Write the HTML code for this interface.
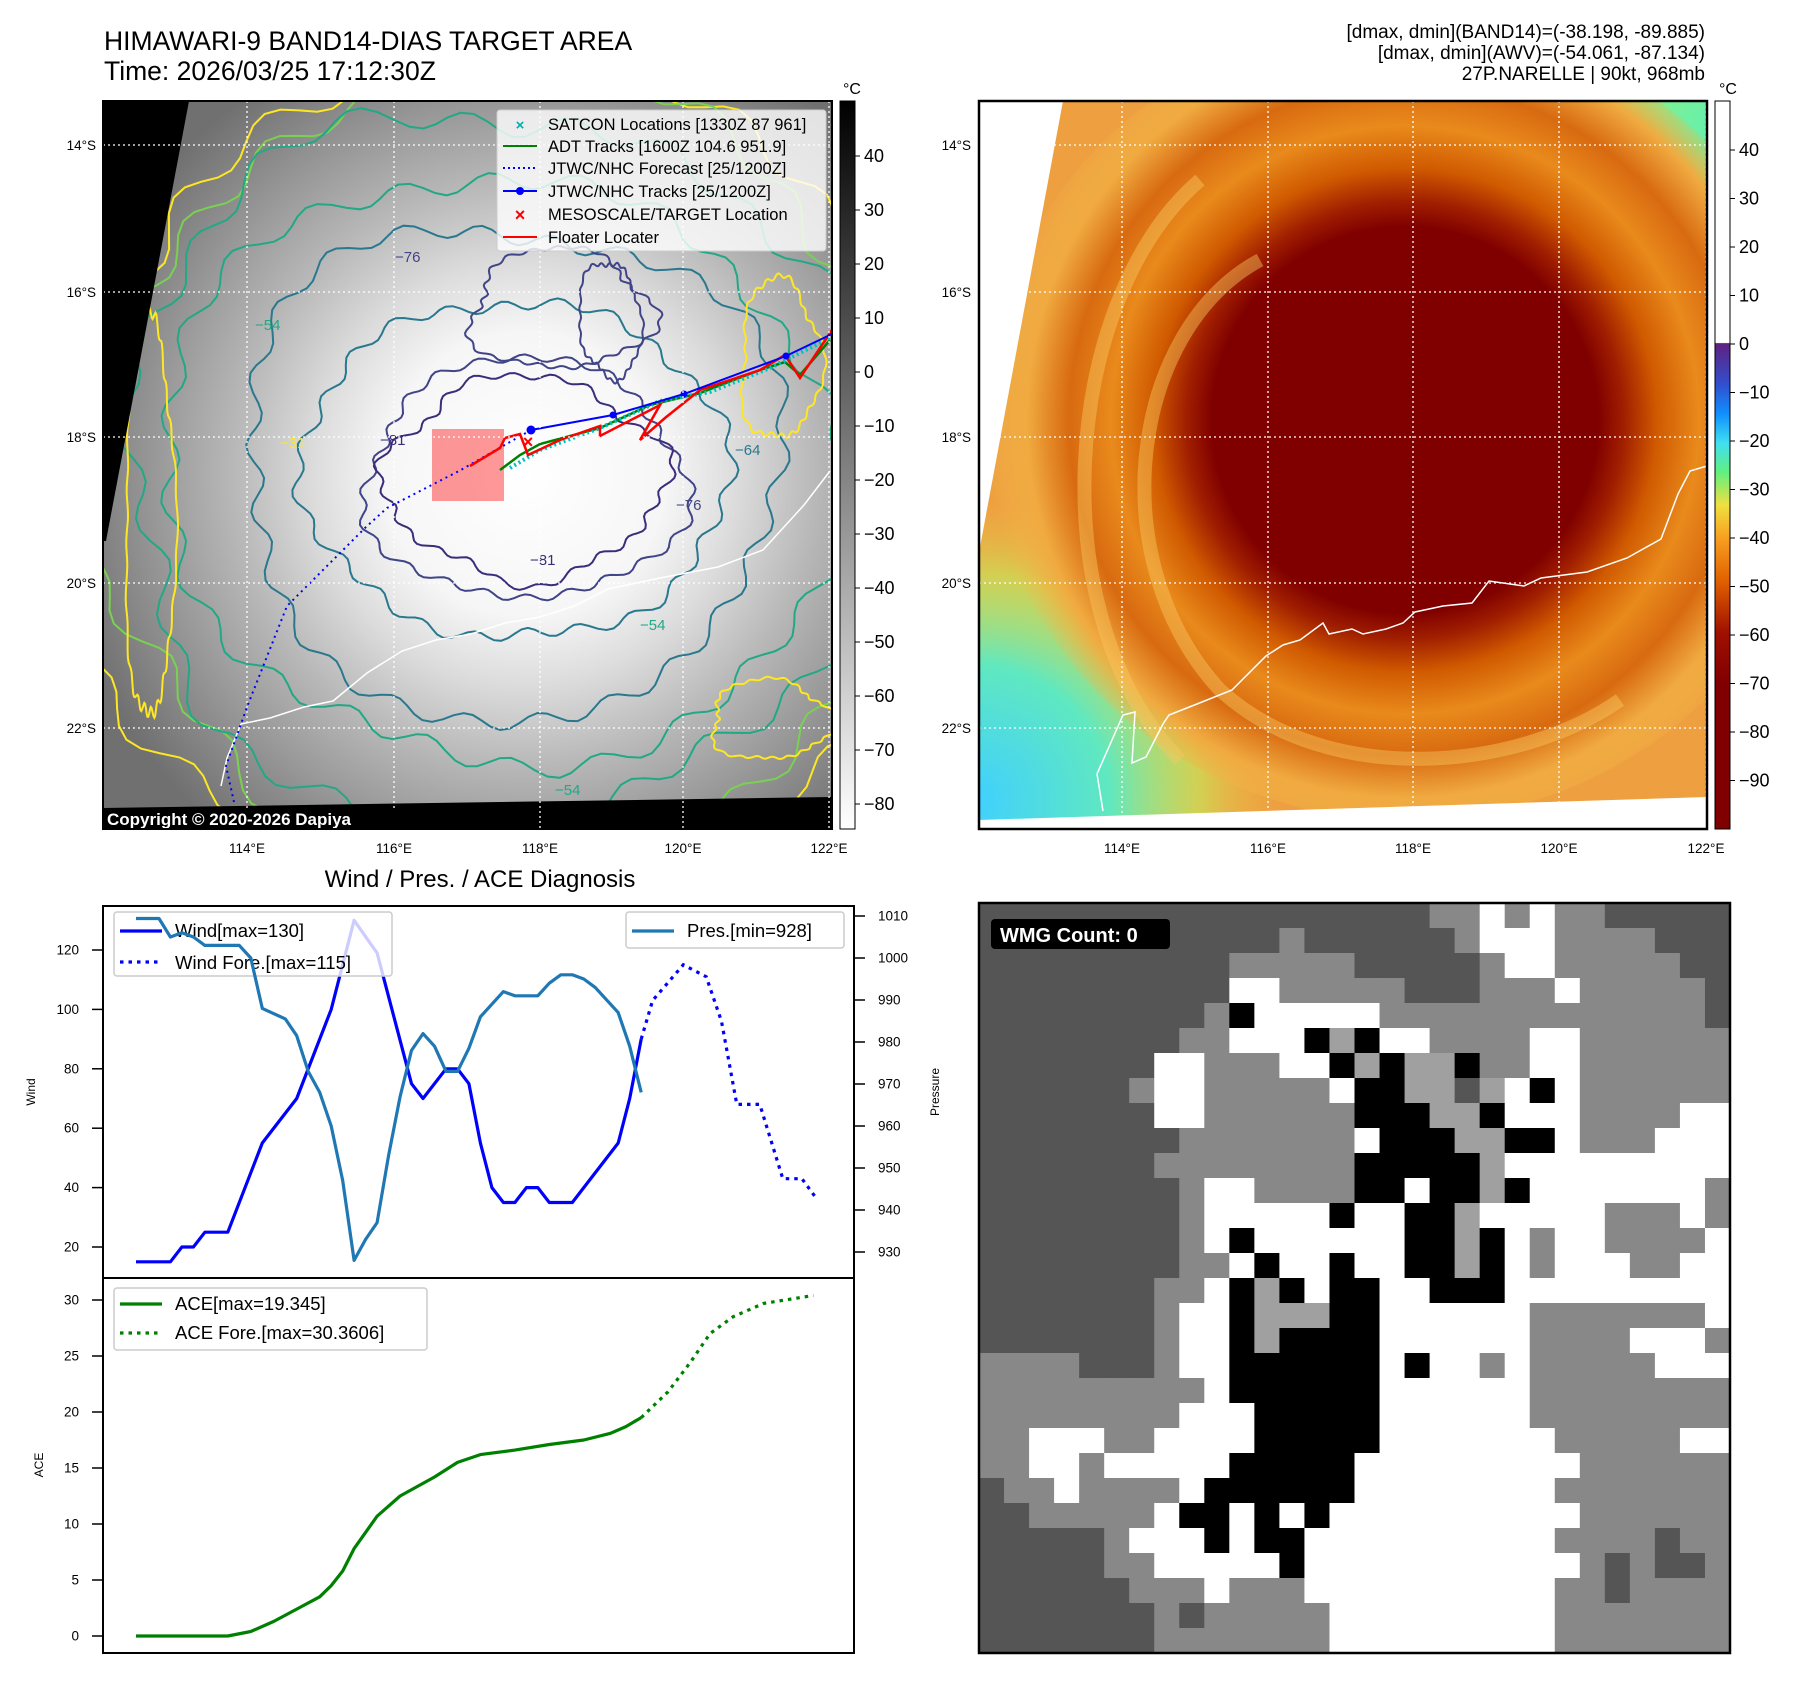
<!DOCTYPE html>
<html><head><meta charset="utf-8"><style>
html,body{margin:0;padding:0;background:#fff;}
svg{display:block;font-family:"Liberation Sans","DejaVu Sans",sans-serif;}
</style></head><body>
<svg id="fig" width="1797" height="1690" viewBox="0 0 1797 1690" xmlns="http://www.w3.org/2000/svg">
<defs>
  <clipPath id="clipL"><rect x="103" y="101" width="729" height="728"/></clipPath>
  <clipPath id="clipR"><rect x="979" y="101" width="728" height="728"/></clipPath>
  <clipPath id="clipC1"><rect x="103" y="906" width="751" height="372"/></clipPath>
  <clipPath id="clipC2"><rect x="103" y="1278" width="751" height="375"/></clipPath>
  <radialGradient id="grayBg" gradientUnits="userSpaceOnUse" cx="525" cy="474" r="470">
    <stop offset="0" stop-color="#ffffff"/><stop offset="0.3" stop-color="#f6f6f6"/>
    <stop offset="0.45" stop-color="#dcdcdc"/><stop offset="0.62" stop-color="#b8b8b8"/>
    <stop offset="0.8" stop-color="#969696"/><stop offset="1" stop-color="#707070"/>
  </radialGradient>
  <radialGradient id="redCore" gradientUnits="userSpaceOnUse" cx="1405" cy="420" r="420">
    <stop offset="0" stop-color="#800000"/><stop offset="0.46" stop-color="#800000"/>
    <stop offset="0.52" stop-color="#a01e00"/><stop offset="0.6" stop-color="#d05a00"/>
    <stop offset="0.7" stop-color="#e98a1c"/><stop offset="0.8" stop-color="#d86a10"/>
    <stop offset="0.9" stop-color="#f0aa40"/><stop offset="1" stop-color="#f3b848" stop-opacity="0"/>
  </radialGradient>
  <radialGradient id="cyanBL" gradientUnits="userSpaceOnUse" cx="975" cy="800" r="300">
    <stop offset="0" stop-color="#40d0ff"/><stop offset="0.45" stop-color="#60e8c0"/>
    <stop offset="0.75" stop-color="#c0f060" stop-opacity="0.6"/><stop offset="1" stop-color="#f0c040" stop-opacity="0"/>
  </radialGradient>
  <radialGradient id="greenTR" gradientUnits="userSpaceOnUse" cx="1720" cy="130" r="300">
    <stop offset="0" stop-color="#60f0b0"/><stop offset="0.5" stop-color="#a8f070"/>
    <stop offset="1" stop-color="#f0c040" stop-opacity="0"/>
  </radialGradient>
  <linearGradient id="cbGray" x1="0" y1="0" x2="0" y2="1">
    <stop offset="0" stop-color="#000"/><stop offset="1" stop-color="#fff"/>
  </linearGradient>
  <linearGradient id="cbColor" gradientUnits="userSpaceOnUse" x1="0" y1="101" x2="0" y2="829">
    <stop offset="0" stop-color="#fff"/><stop offset="0.332" stop-color="#fff"/>
    <stop offset="0.333" stop-color="#602080"/><stop offset="0.39" stop-color="#3050d0"/>
    <stop offset="0.43" stop-color="#1090ff"/><stop offset="0.47" stop-color="#40e0f0"/>
    <stop offset="0.51" stop-color="#60f080"/><stop offset="0.555" stop-color="#f0e040"/>
    <stop offset="0.6" stop-color="#f8a020"/><stop offset="0.66" stop-color="#e06000"/>
    <stop offset="0.73" stop-color="#a01000"/><stop offset="0.8" stop-color="#800000"/>
    <stop offset="1" stop-color="#800000"/>
  </linearGradient>
</defs>

<text x="104" y="50" font-size="26.5">HIMAWARI-9 BAND14-DIAS TARGET AREA</text>
<text x="104" y="80" font-size="26.5">Time: 2026/03/25 17:12:30Z</text>
<text x="1705" y="38" font-size="19" text-anchor="end">[dmax, dmin](BAND14)=(-38.198, -89.885)</text>
<text x="1705" y="59" font-size="19" text-anchor="end">[dmax, dmin](AWV)=(-54.061, -87.134)</text>
<text x="1705" y="80" font-size="19" text-anchor="end">27P.NARELLE | 90kt, 968mb</text>

<g id="leftMap" clip-path="url(#clipL)">
  <rect x="103" y="101" width="729" height="728" fill="url(#grayBg)"/>
  <g id="contours"></g>
  <polyline fill="none" stroke="#fff" stroke-width="1.5" points="221,786 227,758 241,724 270,718 304,707 333,701 367,673 402,651 436,640 471,634 505,623 540,617 574,606 608,589 660,578 718,567 763,550 804,505 830,471"/>
  <polygon points="103,101 189,101 106,541 103,541" fill="#000"/>
  <polygon points="103,808 832,797 832,829 103,829" fill="#000"/>
  <rect x="432" y="429" width="72" height="72" fill="#ff0000" fill-opacity="0.4"/>
  <polyline fill="none" stroke="#0000ff" stroke-width="2" stroke-dasharray="2,4" points="531,430 459,471 387,508 366,527 287,606 247,707 226,766 234,802"/>
  <polyline fill="none" stroke="#008000" stroke-width="2.5" points="500,470 520,455 540,444 600,428 650,405 700,393 760,370 785,362 800,375 830,340"/>
  <polyline fill="none" stroke="#00c0c0" stroke-width="4" stroke-dasharray="2,3" points="510,468 540,450 600,428 660,401 710,392 770,368 830,338"/>
  <polyline fill="none" stroke="#ff0000" stroke-width="2.5" points="470,466 500,448 505,438 520,434 528,455 560,440 600,426 600,436 660,405 640,440 665,418 700,390 760,370 785,355 800,378 832,330"/>
  <polyline fill="none" stroke="#0000ff" stroke-width="2" points="531,430 613,415 684,394 786,356 832,334"/>
  <circle cx="531" cy="430" r="4.5" fill="#0000ff"/><circle cx="613" cy="415" r="3.5" fill="#0000ff"/>
  <circle cx="684" cy="394" r="3.5" fill="#0000ff"/><circle cx="786" cy="356" r="3.5" fill="#0000ff"/>
  <text x="528" y="448" font-size="18" fill="#ff0000" font-weight="bold" text-anchor="middle">×</text>
  <g stroke="#fff" stroke-width="1.3" stroke-dasharray="2,3">
    <line x1="247" y1="101" x2="247" y2="829"/><line x1="394" y1="101" x2="394" y2="829"/>
    <line x1="540" y1="101" x2="540" y2="829"/><line x1="683" y1="101" x2="683" y2="829"/>
    <line x1="829" y1="101" x2="829" y2="829"/>
    <line x1="103" y1="145" x2="832" y2="145"/><line x1="103" y1="292" x2="832" y2="292"/>
    <line x1="103" y1="437" x2="832" y2="437"/><line x1="103" y1="583" x2="832" y2="583"/>
    <line x1="103" y1="728" x2="832" y2="728"/>
  </g>
  <rect x="103" y="808" width="312" height="24" rx="3" fill="#000"/>
  <text x="107" y="825" font-size="17" font-weight="bold" fill="#fff">Copyright © 2020-2026 Dapiya</text>
</g>
<rect x="103" y="101" width="729" height="728" fill="none" stroke="#000" stroke-width="2"/>
<g>
  <rect x="497" y="110" width="329" height="141" rx="3" fill="#fff" fill-opacity="0.8" stroke="#ccc"/>
  <text x="520" y="130" font-size="15" fill="#00b0b0" font-weight="bold" text-anchor="middle">×</text>
  <text x="548" y="130" font-size="16.5">SATCON Locations [1330Z 87 961]</text>
  <line x1="503" y1="146" x2="537" y2="146" stroke="#008000" stroke-width="2"/>
  <text x="548" y="152" font-size="16.5">ADT Tracks [1600Z 104.6 951.9]</text>
  <line x1="503" y1="168" x2="537" y2="168" stroke="#0000ff" stroke-width="2" stroke-dasharray="2,3"/>
  <text x="548" y="174" font-size="16.5">JTWC/NHC Forecast [25/1200Z]</text>
  <line x1="503" y1="191" x2="537" y2="191" stroke="#0000ff" stroke-width="2"/><circle cx="520" cy="191" r="4" fill="#0000ff"/>
  <text x="548" y="197" font-size="16.5">JTWC/NHC Tracks [25/1200Z]</text>
  <text x="520" y="221" font-size="18" fill="#ff0000" font-weight="bold" text-anchor="middle">×</text>
  <text x="548" y="220" font-size="16.5">MESOSCALE/TARGET Location</text>
  <line x1="503" y1="237" x2="537" y2="237" stroke="#ff0000" stroke-width="2"/>
  <text x="548" y="243" font-size="16.5">Floater Locater</text>
</g>
<g font-size="13.5">
  <text x="96" y="150" text-anchor="end">14°S</text><text x="96" y="297" text-anchor="end">16°S</text>
  <text x="96" y="442" text-anchor="end">18°S</text><text x="96" y="588" text-anchor="end">20°S</text>
  <text x="96" y="733" text-anchor="end">22°S</text>
  <text x="247" y="853" text-anchor="middle">114°E</text><text x="394" y="853" text-anchor="middle">116°E</text>
  <text x="540" y="853" text-anchor="middle">118°E</text><text x="683" y="853" text-anchor="middle">120°E</text>
  <text x="829" y="853" text-anchor="middle">122°E</text>
</g>
<g>
  <rect x="840" y="101" width="15" height="728" fill="url(#cbGray)" stroke="#000" stroke-width="1"/>
  <text x="852" y="94" font-size="16" text-anchor="middle">°C</text>
  <g id="cbLticks" font-size="18"></g>
</g>

<g clip-path="url(#clipR)">
  <rect x="979" y="101" width="728" height="728" fill="#eea040"/>
  <rect x="979" y="101" width="728" height="728" fill="url(#cyanBL)"/>
  <rect x="979" y="101" width="728" height="728" fill="url(#greenTR)"/>
  <ellipse cx="1405" cy="420" rx="420" ry="400" fill="url(#redCore)"/>
  <g fill="none" stroke="#f8c860" stroke-opacity="0.45" stroke-width="14">
    <path d="M1260,260 C1130,330 1100,560 1220,690 C1330,790 1520,770 1620,700"/>
    <path d="M1200,180 C1060,300 1040,620 1180,760"/>
  </g>
  <ellipse cx="1405" cy="405" rx="190" ry="170" fill="#800000"/>
  <polyline fill="none" stroke="#fff" stroke-width="1.5" points="1103,811 1097,774 1123,715 1135,712 1132,763 1146,757 1163,724 1169,715 1197,704 1232,690 1266,656 1283,645 1300,640 1323,623 1329,634 1352,629 1363,634 1386,629 1403,623 1415,612 1443,606 1472,603 1489,581 1524,586 1541,578 1587,572 1627,558 1661,539 1678,494 1690,471 1707,466"/>
  <polygon points="979,101 1063,101 980,547 979,547" fill="#fff"/>
  <polygon points="979,820 1707,797 1707,829 979,829" fill="#fff"/>
  <g stroke="#fff" stroke-width="1.3" stroke-dasharray="2,3">
    <line x1="1122" y1="101" x2="1122" y2="829"/><line x1="1268" y1="101" x2="1268" y2="829"/>
    <line x1="1413" y1="101" x2="1413" y2="829"/><line x1="1559" y1="101" x2="1559" y2="829"/>
    <line x1="1706" y1="101" x2="1706" y2="829"/>
    <line x1="979" y1="145" x2="1707" y2="145"/><line x1="979" y1="292" x2="1707" y2="292"/>
    <line x1="979" y1="437" x2="1707" y2="437"/><line x1="979" y1="583" x2="1707" y2="583"/>
    <line x1="979" y1="728" x2="1707" y2="728"/>
  </g>
</g>
<rect x="979" y="101" width="728" height="728" fill="none" stroke="#000" stroke-width="2.5"/>
<g font-size="13.5">
  <text x="971" y="150" text-anchor="end">14°S</text><text x="971" y="297" text-anchor="end">16°S</text>
  <text x="971" y="442" text-anchor="end">18°S</text><text x="971" y="588" text-anchor="end">20°S</text>
  <text x="971" y="733" text-anchor="end">22°S</text>
  <text x="1122" y="853" text-anchor="middle">114°E</text><text x="1268" y="853" text-anchor="middle">116°E</text>
  <text x="1413" y="853" text-anchor="middle">118°E</text><text x="1559" y="853" text-anchor="middle">120°E</text>
  <text x="1706" y="853" text-anchor="middle">122°E</text>
</g>
<g>
  <rect x="1715" y="101" width="15" height="728" fill="url(#cbColor)" stroke="#000" stroke-width="1"/>
  <text x="1728" y="94" font-size="16" text-anchor="middle">°C</text>
  <g id="cbRticks" font-size="18"></g>
</g>

<text x="480" y="887" font-size="24" text-anchor="middle">Wind / Pres. / ACE Diagnosis</text>
<g id="chartTop"></g>
<g id="chartBot"></g>
<rect x="103" y="906" width="751" height="747" fill="none" stroke="#000" stroke-width="2"/>
<line x1="103" y1="1278" x2="854" y2="1278" stroke="#000" stroke-width="2"/>
<text transform="translate(35,1092) rotate(-90)" font-size="12" text-anchor="middle">Wind</text>
<text transform="translate(939,1092) rotate(-90)" font-size="12" text-anchor="middle">Pressure</text>
<text transform="translate(43,1465) rotate(-90)" font-size="12" text-anchor="middle">ACE</text>

<g id="wmg"></g>
<rect x="979" y="903" width="751" height="750" fill="none" stroke="#000" stroke-width="2.5"/>
<rect x="991" y="919" width="179" height="30" rx="4" fill="#000"/>
<text x="1000" y="942" font-size="20" font-weight="bold" fill="#fff">WMG Count: 0</text>
</svg>

<script>
const windHours = [0,9,12,15,18,24,33,42,51,57,63,72,75,81,84,87,90,93,96,99,102,105,108,114,126,129,132];
const windValues = [15,15,20,20,25,25,55,70,100,130,119,75,70,80,80,75,55,40,35,35,40,40,35,35,55,70,90];
const windForeHours = [132,135,143,149,153,157,163,169,174,178];
const windForeValues = [90,103,115,111,96,68,68,43,43,36];
const presHours = [0,6,9,12,15,18,27,30,33,39,42,45,48,51,54,57,60,63,66,69,72,75,78,81,84,87,90,93,96,99,105,108,111,114,117,120,126,129,132];
const presValues = [1009.4,1009.4,1005,1006,1005,1003,1003,1000,988,985.5,981.5,973,968,960,947,928,933,937,953,967,978,982,979,973,973,978.5,986,989,992,991,991,994,996,996,995,993,987,979,968];
const aceHours = [0,24,30,36,42,48,51,54,57,63,69,78,84,90,99,108,117,124,128,132];
const aceValues = [0,0,0.4,1.3,2.4,3.5,4.5,5.8,7.8,10.7,12.5,14.2,15.5,16.2,16.6,17.1,17.5,18.1,18.7,19.5];
const aceForeHours = [132,139,145,150,156,164,177];
const aceForeValues = [19.5,21.8,24.5,27,28.5,29.7,30.4];
const windTicks = [20,40,60,80,100,120];
const presTicks = [930,940,950,960,970,980,990,1000,1010];
const aceTicks = [0,5,10,15,20,25,30];
const cbLeftTicks = [40,30,20,10,0,-10,-20,-30,-40,-50,-60,-70,-80];
const cbRightTicks = [40,30,20,10,0,-10,-20,-30,-40,-50,-60,-70,-80,-90];

const NS = "http://www.w3.org/2000/svg";
function mk(tag, attrs, parent){ const e=document.createElementNS(NS,tag); for(const k in attrs) e.setAttribute(k,attrs[k]); parent.appendChild(e); return e; }
const X = h => 136 + h*3.827;
const YW = v => 1247 - (v-20)*2.97;
const YP = p => 1252 - (p-930)*4.2;
const YA = a => 1636 - a*11.2;
const pts = (hs,vs,fy) => hs.map((h,i)=>X(h).toFixed(1)+","+fy(vs[i]).toFixed(1)).join(" ");

const topG = document.getElementById("chartTop");
const botG = document.getElementById("chartBot");
windTicks.forEach(v=>{
  const y=YW(v);
  const l=mk("line",{x1:92,y1:y,x2:103,y2:y,stroke:"#000","stroke-width":1.5},topG);
  
  
  const t=mk("text",{x:79,y:y+4.5,"font-size":13.5,"text-anchor":"end"},topG); t.textContent=v;
  
  
});
presTicks.forEach(v=>{
  const y=YP(v);
  const l=mk("line",{x1:854,y1:y,x2:865,y2:y,stroke:"#000","stroke-width":1.5},topG);
  
  
  const t=mk("text",{x:878,y:y+4.5,"font-size":13.5},topG); t.textContent=v;
  
  
});
aceTicks.forEach(v=>{
  const y=YA(v);
  const l=mk("line",{x1:92,y1:y,x2:103,y2:y,stroke:"#000","stroke-width":1.5},botG);
  
  
  const t=mk("text",{x:79,y:y+4.5,"font-size":13.5,"text-anchor":"end"},botG); t.textContent=v;
  
  
});
const gT = mk("g",{"clip-path":"url(#clipC1)"},topG);
let e;
e=mk("polyline",{points:pts(windHours,windValues,YW),fill:"none",stroke:"#0000ff","stroke-width":3.2,"stroke-linejoin":"round"},gT);
 
e=mk("polyline",{points:pts(windForeHours,windForeValues,YW),fill:"none",stroke:"#0000ff","stroke-width":3.2,"stroke-dasharray":"3.5,5"},gT);
 
const lg=mk("g",{},gT);
 
mk("rect",{x:114,y:912,width:278,height:64,rx:3,fill:"#fff","fill-opacity":0.8,stroke:"#ccc","stroke-width":1.5},lg);
mk("line",{x1:120,y1:931,x2:162,y2:931,stroke:"#0000ff","stroke-width":3.2},lg);
mk("line",{x1:120,y1:962,x2:162,y2:962,stroke:"#0000ff","stroke-width":3.2,"stroke-dasharray":"3.5,5"},lg);
let t=mk("text",{x:175,y:937,"font-size":18.5},lg); t.textContent="Wind[max=130]";
t=mk("text",{x:175,y:969,"font-size":18.5},lg); t.textContent="Wind Fore.[max=115]";
e=mk("polyline",{points:pts(presHours,presValues,YP),fill:"none",stroke:"#1f77b4","stroke-width":3.2,"stroke-linejoin":"round"},gT);
 
const pg=mk("g",{},gT);
 
mk("rect",{x:626,y:912,width:218,height:36,rx:3,fill:"#fff","fill-opacity":0.8,stroke:"#ccc","stroke-width":1.5},pg);
mk("line",{x1:632,y1:931,x2:674,y2:931,stroke:"#1f77b4","stroke-width":3.2},pg);
t=mk("text",{x:687,y:937,"font-size":18.5},pg); t.textContent="Pres.[min=928]";

const gB = mk("g",{"clip-path":"url(#clipC2)"},botG);
e=mk("polyline",{points:pts(aceHours,aceValues,YA),fill:"none",stroke:"#008000","stroke-width":3.2,"stroke-linejoin":"round"},gB);
 
e=mk("polyline",{points:pts(aceForeHours,aceForeValues,YA),fill:"none",stroke:"#008000","stroke-width":3.2,"stroke-dasharray":"3.5,5"},gB);
 
const ag=mk("g",{},gB);
 
mk("rect",{x:114,y:1288,width:313,height:62,rx:3,fill:"#fff","fill-opacity":0.8,stroke:"#ccc","stroke-width":1.5},ag);
mk("line",{x1:120,y1:1304,x2:162,y2:1304,stroke:"#008000","stroke-width":3.2},ag);
mk("line",{x1:120,y1:1333,x2:162,y2:1333,stroke:"#008000","stroke-width":3.2,"stroke-dasharray":"3.5,5"},ag);
t=mk("text",{x:175,y:1310,"font-size":18.5},ag); t.textContent="ACE[max=19.345]";
t=mk("text",{x:175,y:1339,"font-size":18.5},ag); t.textContent="ACE Fore.[max=30.3606]";

const cbl=document.getElementById("cbLticks");
cbLeftTicks.forEach((v,i)=>{
  const y=156+i*54;
  mk("line",{x1:855,y1:y,x2:860,y2:y,stroke:"#000"},cbl);
  const tt=mk("text",{x:864,y:y+6},cbl); tt.textContent=(v<0?"\u2212"+(-v):v);
  
  
});
const cbr=document.getElementById("cbRticks");
cbRightTicks.forEach((v,i)=>{
  const y=150+i*48.5;
  mk("line",{x1:1730,y1:y,x2:1735,y2:y,stroke:"#000"},cbr);
  const tt=mk("text",{x:1739,y:y+6},cbr); tt.textContent=(v<0?"\u2212"+(-v):v);
  
  
});

const cg=document.getElementById("contours");
function blob(cx,cy,rx,ry,amp,f1,f2,ph,color,w){
  let d="";
  for(let i=0;i<=180;i++){
    const a=i/180*Math.PI*2;
    const r=1+amp*(Math.sin(f1*a+ph)*0.6+Math.sin(f2*a+ph*1.7)*0.4)+0.03*Math.sin(23*a+ph);
    const x=cx+rx*r*Math.cos(a), y=cy+ry*r*Math.sin(a);
    d+=(i?"L":"M")+x.toFixed(1)+","+y.toFixed(1);
  }
  const p=mk("path",{d:d+"Z",fill:"none",stroke:color,"stroke-width":w},cg);
  
  
}
blob(510,480,440,410,0.06,3,5,0.3,"#fde725",2);
blob(505,475,420,395,0.06,4,6,1.1,"#7ad151",2);
blob(500,470,380,360,0.07,3,7,2.0,"#22a884",2);
blob(500,470,330,300,0.07,2,5,0.7,"#22a884",2);
blob(510,470,270,250,0.08,3,4,2.5,"#2a788e",2);
blob(515,470,205,175,0.07,2,6,1.4,"#2a788e",2);
blob(525,480,160,120,0.08,3,5,0.2,"#414487",2);
blob(525,478,138,100,0.10,4,7,1.9,"#3b2d7a",2);
blob(560,310,90,60,0.15,3,5,0.5,"#414487",2);
blob(610,320,30,60,0.15,2,5,0.5,"#414487",2);
blob(150,520,25,200,0.1,3,5,1,"#fde725",2);
blob(780,360,40,80,0.15,3,5,1,"#fde725",2);
blob(770,720,60,40,0.15,3,5,1,"#fde725",2);
const labs=[["-76",395,262,"#414487"],["-54",255,330,"#22a884"],["-81",380,445,"#3b2d7a"],["-64",735,455,"#2a788e"],["-76",676,510,"#414487"],["-81",530,565,"#3b2d7a"],["-31",280,448,"#fde725"],["-54",640,630,"#22a884"],["-54",555,795,"#22a884"]];
labs.forEach(l=>{ const tx=mk("text",{x:l[1],y:l[2],"font-size":15,fill:l[3]},cg); tx.textContent=l[0].replace("-","\u2212");
    });

const wmgRows = [
"DDDDDDDDDDDDDDDDDDGGWGWGGDDDDD",
"DDDDDDDDDDDDGDDDDDDGWWWGGGGDDD",
"DDDDDDDDDDGGGGGDDDDDGWWGGGGGDD",
"DDDDDDDDDDWWGGGGGDDDGGGWGGGGGD",
"DDDDDDDDDGKWWWWWGGGGGGGGGGGGGD",
"DDDDDDDDGGWWWKLKWWGGGGWWGGGGGG",
"DDDDDDDWWGGGWWKLKLLKGGWWGGGGGG",
"DDDDDDGWWGGGGGWKKLLDLWKWGGGGGG",
"DDDDDDDWWGGGGGGKKKLLKWWWGGGGWW",
"DDDDDDDDGGGGGGGWKKKLLKKWGGGWWW",
"DDDDDDDGGGGGGGGKKKKKLWWWWWWWWW",
"DDDDDDDDGWWGGGGKKWKKLKWWWWWWWG",
"DDDDDDDDGWWWWWKWWKKLWWWWWGGGWG",
"DDDDDDDDGWKWWWWWWKKLKWGWWGGGGW",
"DDDDDDDDGGWKWWKWWKKLKWGWWWGGWW",
"DDDDDDDGGWKLKWKKWWKKKWWWWWWWWW",
"DDDDDDDGWWKLLLKKWWWWWWGGGGGGGW",
"DDDDDDDGWWKLKKKKWWWWWWGGGGWWWG",
"GGGGDDDGWWKKKKKKWKWWGWGGGGGWWW",
"GGGGGGGGGWKKKKKKWWWWWWGGGGGGGG",
"GGGGGGGGWWWKKKKKWWWWWWGGGGGGGG",
"GGWWWGGWWWWKKKKKWWWWWWWGGGGGWW",
"GGWWGWWWWWKKKKKWWWWWWWWWGGGGGG",
"DGGWGGGGWKKKKKKWWWWWWWWGGGGGGG",
"DDGGGGGWKKWKWKWWWWWWWWWWGGGGGG",
"DDDDDGWWWKWKKWWWWWWWWWWGGGGDGG",
"DDDDDGGWWWWWKWWWWWWWWWWWGDGDDG",
"DDDDDDGGGWGGGWWWWWWWWWWGGDGGGG",
"DDDDDDDGDGGGGGWWWWWWWWWGGGGGGG",
"DDDDDDDGGGGGGGWWWWWWWWWGGGGGGG"];
const wmgColors = {D:"#555555",G:"#888888",L:"#a0a0a0",W:"#ffffff",K:"#000000"};
const wmg=document.getElementById("wmg");
const cw=751/30, ch=750/30;
wmgRows.forEach((row,r)=>{
  for(let c=0;c<row.length;c++){
    const rc=mk("rect",{x:(979+c*cw).toFixed(2),y:(903+r*ch).toFixed(2),width:(cw+0.6).toFixed(2),height:(ch+0.6).toFixed(2),fill:wmgColors[row[c]]},wmg);
    
    
  }
});
</script>
</body></html>
